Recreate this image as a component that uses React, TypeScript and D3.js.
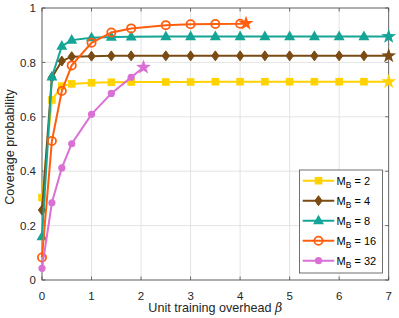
import React from "react";
import * as d3 from "d3";

const betaLong = [0, 0.2, 0.4, 0.6, 1.0, 1.4, 1.8, 2.5, 3.0, 3.5, 4.0, 4.5, 5.0, 5.5, 6.0, 6.5, 7.0];
const mb2 = [0.303, 0.662, 0.713, 0.721, 0.725, 0.727, 0.728, 0.728, 0.728, 0.729, 0.729, 0.729, 0.729, 0.729, 0.729, 0.729, 0.729];
const mb4 = [0.257, 0.745, 0.805, 0.821, 0.823, 0.824, 0.824, 0.824, 0.824, 0.824, 0.824, 0.824, 0.824, 0.824, 0.824, 0.824, 0.824];
const mb8 = [0.159, 0.747, 0.86, 0.882, 0.891, 0.893, 0.894, 0.895, 0.895, 0.895, 0.895, 0.895, 0.895, 0.895, 0.895, 0.895, 0.895];
const beta16 = [0, 0.2, 0.4, 0.6, 1.0, 1.4, 1.8, 2.5, 3.0, 3.5, 4.0, 4.12];
const mb16 = [0.083, 0.511, 0.695, 0.789, 0.872, 0.91, 0.925, 0.937, 0.94, 0.941, 0.942, 0.943];
const beta32 = [0, 0.2, 0.4, 0.6, 1.0, 1.4, 1.8, 2.05];
const mb32 = [0.043, 0.284, 0.412, 0.501, 0.609, 0.686, 0.745, 0.782];

const legendLabels = ["2", "4", "8", "16", "32"];
const xTicks = [0, 1, 2, 3, 4, 5, 6, 7];
const yTicks = [0, 0.2, 0.4, 0.6, 0.8, 1];

type Marker = "square" | "diamond" | "triangle" | "circleOpen" | "circle";
const series: { xs: number[]; ys: number[]; color: string; marker: Marker }[] = [
  { xs: betaLong, ys: mb2, color: "#FFD200", marker: "square" },
  { xs: betaLong, ys: mb4, color: "#7A4B12", marker: "diamond" },
  { xs: betaLong, ys: mb8, color: "#14A597", marker: "triangle" },
  { xs: beta16, ys: mb16, color: "#FF5E0E", marker: "circleOpen" },
  { xs: beta32, ys: mb32, color: "#DA70D6", marker: "circle" },
];

const FONT = "'Liberation Sans', Arial, Helvetica, sans-serif";

function MarkerShape({ type, x, y, color }: { type: Marker; x: number; y: number; color: string }) {
  switch (type) {
    case "square":
      return <rect x={x - 3.8} y={y - 3.8} width={7.6} height={7.6} fill={color} />;
    case "diamond":
      return (
        <path
          d={`M${x},${y - 5} L${x + 3.6},${y} L${x},${y + 5} L${x - 3.6},${y} Z`}
          fill={color}
          stroke={color}
          strokeWidth={1}
        />
      );
    case "triangle":
      return <path d={`M${x},${y - 6} L${x + 5.5},${y + 3.6} L${x - 5.5},${y + 3.6} Z`} fill={color} />;
    case "circleOpen":
      return <circle cx={x} cy={y} r={4.1} fill="none" stroke={color} strokeWidth={1.8} />;
    case "circle":
      return <circle cx={x} cy={y} r={3.6} fill={color} />;
  }
}

function Star({ x, y, color }: { x: number; y: number; color: string }) {
  const R = 7.8;
  const r = R * 0.4;
  const pts: string[] = [];
  for (let i = 0; i < 10; i++) {
    const a = -Math.PI / 2 + (i * Math.PI) / 5;
    const rr = i % 2 === 0 ? R : r;
    pts.push(`${x + rr * Math.cos(a)},${y + rr * Math.sin(a)}`);
  }
  return <polygon points={pts.join(" ")} fill={color} />;
}

export default function App() {
  const W = 399;
  const H = 318;
  const left = 42;
  const right = 388.7;
  const top = 8;
  const bottom = 280;
  const x = d3.scaleLinear().domain([0, 7]).range([left, right]);
  const y = d3.scaleLinear().domain([0, 1]).range([bottom, top]);
  const line = d3
    .line<[number, number]>()
    .x((d) => x(d[0]))
    .y((d) => y(d[1]));
  const axisColor = "#4d4d4d";
  const gridColor = "#e3e3e3";
  const tickLen = 3.5;
  const tickFont = 11.5;
  const labelFont = 12.6;

  const legX = 299.5;
  const legY = 170;
  const legW = 83;
  const legH = 103;
  const rowY = (i: number) => 180.7 + i * 20;

  return (
    <svg
      width={W}
      height={H}
      style={{ position: "absolute", left: 0, top: 0, background: "#fff" }}
      fontFamily={FONT}
    >
      <rect x={0} y={0} width={W} height={H} fill="#fff" />
      {/* grid */}
      {xTicks.map((t) => (
        <line key={"gx" + t} x1={x(t)} x2={x(t)} y1={top} y2={bottom} stroke={gridColor} strokeWidth={1} />
      ))}
      {yTicks.map((t) => (
        <line key={"gy" + t} x1={left} x2={right} y1={y(t)} y2={y(t)} stroke={gridColor} strokeWidth={1} />
      ))}
      {/* ticks */}
      {xTicks.map((t) => (
        <g key={"tx" + t}>
          <line x1={x(t)} x2={x(t)} y1={bottom} y2={bottom - tickLen} stroke={axisColor} strokeWidth={0.8} />
          <line x1={x(t)} x2={x(t)} y1={top} y2={top + tickLen} stroke={axisColor} strokeWidth={0.8} />
          <text x={x(t)} y={299.5} textAnchor="middle" fontSize={tickFont} fill="#262626">
            {t}
          </text>
        </g>
      ))}
      {yTicks.map((t) => (
        <g key={"ty" + t}>
          <line x1={left} x2={left + tickLen} y1={y(t)} y2={y(t)} stroke={axisColor} strokeWidth={0.8} />
          <line x1={right} x2={right - tickLen} y1={y(t)} y2={y(t)} stroke={axisColor} strokeWidth={0.8} />
          <text x={36} y={y(t) + 4.1} textAnchor="end" fontSize={tickFont} fill="#262626">
            {d3.format("~g")(t)}
          </text>
        </g>
      ))}
      {/* box */}
      <rect x={left} y={top} width={right - left} height={bottom - top} fill="none" stroke={axisColor} strokeWidth={0.8} />

      {/* series */}
      {series.map((s, si) => {
        const pts: [number, number][] = s.xs.map((v, i) => [v, s.ys[i]]);
        const n = pts.length;
        return (
          <g key={"s" + si}>
            <path d={line(pts) || ""} fill="none" stroke={s.color} strokeWidth={2} />
            {pts.slice(0, n - 1).map((p, i) => (
              <MarkerShape key={i} type={s.marker} x={x(p[0])} y={y(p[1])} color={s.color} />
            ))}
            <Star x={x(pts[n - 1][0])} y={y(pts[n - 1][1])} color={s.color} />
          </g>
        );
      })}

      {/* legend */}
      <rect x={legX} y={legY} width={legW} height={legH} fill="#fff" stroke={axisColor} strokeWidth={0.8} />
      {series.map((s, i) => (
        <g key={"l" + i}>
          <line x1={302.7} x2={334.3} y1={rowY(i)} y2={rowY(i)} stroke={s.color} strokeWidth={2} />
          <MarkerShape type={s.marker} x={318.5} y={rowY(i)} color={s.color} />
          <text x={336.5} y={rowY(i) + 3.8} fontSize={11} fill="#000">
            M
            <tspan fontSize={8.5} dy={3}>
              B
            </tspan>
            <tspan dy={-3}>{" = " + legendLabels[i]}</tspan>
          </text>
        </g>
      ))}

      {/* axis labels */}
      <text x={(left + right) / 2} y={311.5} textAnchor="middle" fontSize={labelFont} fill="#262626">
        Unit training overhead <tspan fontStyle="italic" fontFamily="'DejaVu Serif', serif">β</tspan>
      </text>
      <text
        transform={`translate(14, ${(top + bottom) / 2 + 3}) rotate(-90)`}
        textAnchor="middle"
        fontSize={labelFont}
        fill="#262626"
      >
        Coverage probability
      </text>
    </svg>
  );
}
